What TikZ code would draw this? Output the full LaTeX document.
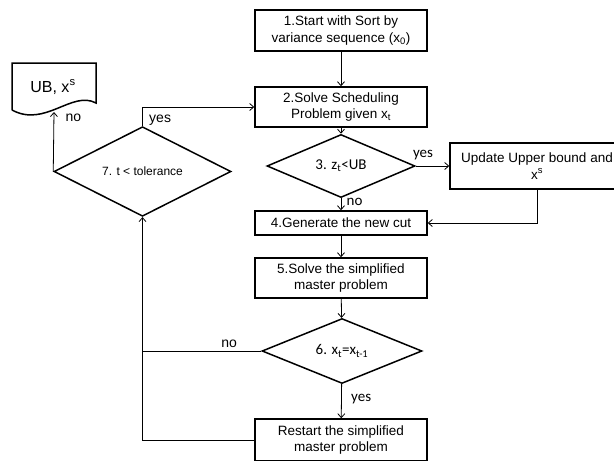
\documentclass[tikz,border=0pt]{standalone}
\usepackage{fontspec}
\setmainfont{Liberation Sans}
\newfontfamily\calfont{Carlito}
\usetikzlibrary{shapes.geometric,arrows.meta}

\begin{document}
\begin{tikzpicture}[x=1pt, y=-1pt,
  procbox/.style={draw, line width=1.5pt, minimum width=172pt, inner sep=0pt, align=center, font=\fontsize{13.5}{16.5}\selectfont},
  decision/.style={draw, diamond, line width=1.5pt, inner sep=0pt},
  flow/.style={-{Straight Barb[length=4pt, width=7pt]}, line width=0.8pt},
  lbl/.style={font=\fontsize{14}{16}\selectfont},
  callbl/.style={font=\calfont\fontsize{15}{17}\selectfont}]
\clip (0,0) rectangle (614,461);
\node[procbox, minimum height=41pt] (start) at (341,30.5) {1.Start with Sort by\\variance sequence (x\textsubscript{0})};
\node[procbox, minimum height=40pt] (solve) at (341,107) {2.Solve Scheduling\\Problem given x\textsubscript{t}};
\node[decision, minimum width=148pt, minimum height=52pt, callbl] (check) at (341,166) {3. z\textsubscript{t}<UB};
\node[procbox, minimum width=174pt, minimum height=46pt] (update) at (537,166) {Update Upper bound and\\x\textsuperscript{s}};
\node[procbox, minimum height=24pt] (cut) at (341,223) {4.Generate the new cut};
\node[procbox, minimum height=40pt] (master) at (341,278) {5.Solve the simplified\\master problem};
\node[decision, minimum width=160pt, minimum height=58pt, callbl] (same) at (342,351) {6. x\textsubscript{t}=x\textsubscript{t-1}};
\node[procbox, minimum height=42pt] (restart) at (341,440) {Restart the simplified\\master problem};
\node[decision, minimum width=177pt, minimum height=63pt, font=\fontsize{12}{14}\selectfont] (tol) at (142.5,171.5) {7. t < tolerance};
\draw[line width=1.5pt] (12,110) -- (12,63) -- (96,63) -- (96,103) .. controls (72,90) and (45,128) .. (12,110);
\node[font=\fontsize{16}{18}\selectfont] (result) at (53,87) {UB, x\textsuperscript{s}};
\coordinate (docbot) at (54,112);
\coordinate (join) at (tol.south |- same.west);
\draw[flow] (start) -- (solve);
\draw[flow] (solve) -- (check);
\draw[flow] (check) -- node[callbl, right, pos=0.3, xshift=2pt] {no} (cut);
\draw[flow] (check.east) -- (update.west);
\node[callbl] at (423,155) {yes};
\draw[flow] (update.south) |- (cut.east);
\draw[flow] (cut) -- (master);
\draw[flow] (master) -- (same);
\draw[flow] (same) -- node[right, pos=0.45, xshift=6pt, callbl] {yes} (restart);
\draw[line width=0.8pt] (same.west) -- node[above, pos=0.27, lbl] {no} (join);
\draw[flow] (restart.west) -| (tol.south);
\draw[flow] (tol.north) |- node[lbl, right, pos=0.16, xshift=3pt] {yes} (solve.west);
\draw[flow] (tol.west) -- node[lbl, right, pos=0.9, xshift=8pt] {no} (docbot);
\end{tikzpicture}
\end{document}
